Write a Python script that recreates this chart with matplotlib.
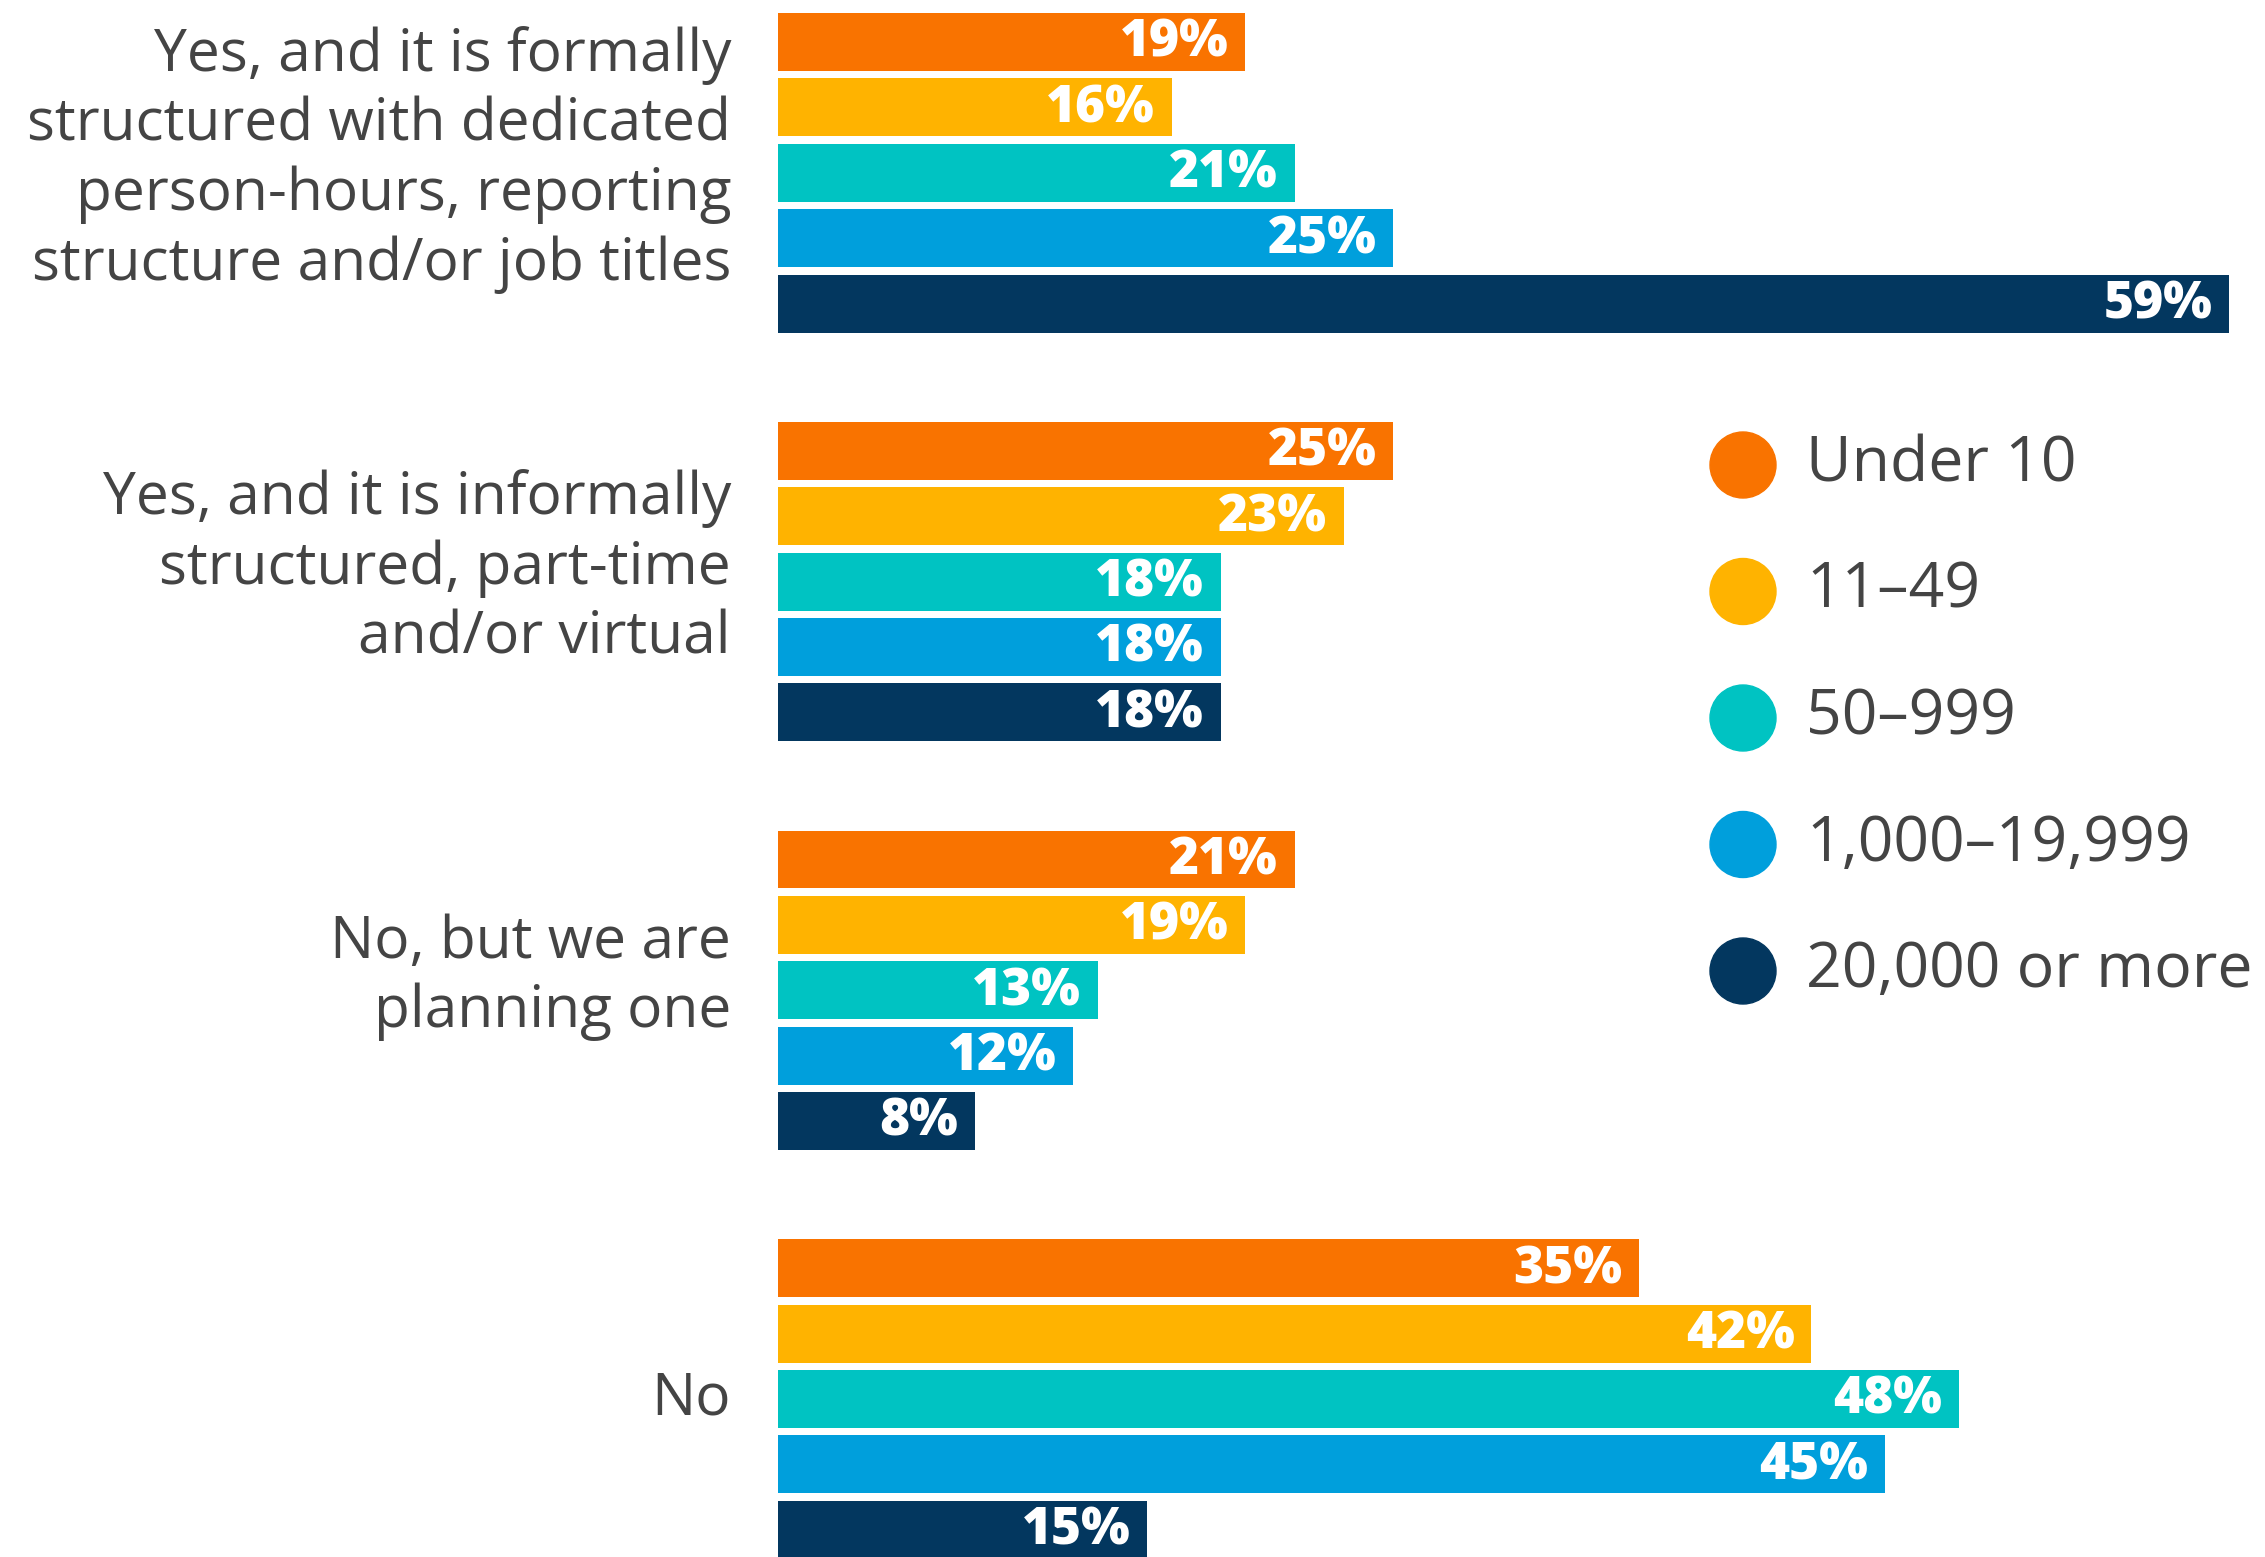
import matplotlib.pyplot as plt
from matplotlib.patches import Ellipse

# Survey answers (top to bottom) and company-size series
categories = [
    "Yes, and it is formally\nstructured with dedicated\nperson-hours, reporting\nstructure and/or job titles",
    "Yes, and it is informally\nstructured, part-time\nand/or virtual",
    "No, but we are\nplanning one",
    "No",
]
series_names = ["Under 10", "11\u201349", "50\u2013999", "1,000\u201319,999", "20,000 or more"]
under_10 = [19, 25, 21, 35]
s_11_49 = [16, 23, 19, 42]
s_50_999 = [21, 18, 13, 48]
s_1000_19999 = [25, 18, 12, 45]
s_20000_plus = [59, 18, 8, 15]
series_values = [under_10, s_11_49, s_50_999, s_1000_19999, s_20000_plus]
colors = ["#F97300", "#FFB300", "#00C3C2", "#009FDC", "#03375F"]

text_color = "#444444"
plt.rcParams['font.family'] = ['Open Sans', 'DejaVu Sans']

W, H = 2265, 1557
fig = plt.figure(figsize=(W / 100, H / 100), dpi=100)
ax = fig.add_axes([0, 0, 1, 1])

# layout in pixels
x0_px = 778          # left edge of bars
px_per_pct = 24.6
slot_px = 65.4       # bar pitch
first_center_px = 42
group_step = 6.25    # in slots
bar_h = 0.886

ax.set_xlim(-x0_px / px_per_pct, (W - x0_px) / px_per_pct)
ax.set_ylim((H - first_center_px) / slot_px, -first_center_px / slot_px)
ax.axis('off')

for s, (vals, col) in enumerate(zip(series_values, colors)):
    ys = [g * group_step + s for g in range(len(categories))]
    ax.barh(ys, vals, height=bar_h, color=col, left=0)
    for y, v in zip(ys, vals):
        ax.annotate(f"{v}%", (v, y), xytext=(-12, -1), textcoords='offset points',
                    ha='right', va='center', color='white', fontsize=37,
                    fontweight='heavy')

label_x = -(x0_px - 731) / px_per_pct
for g, cat in enumerate(categories):
    yc = g * group_step + 2
    shift = -0.2 if "\n" in cat else 0
    ax.text(label_x, yc + shift, cat, ha='right', va='center', fontsize=42.2,
            color=text_color, linespacing=1.25)

# legend drawn manually
for i, (name, col) in enumerate(zip(series_names, colors)):
    cy = 1 - (465 + i * 126.5) / H
    fig.patches.append(Ellipse((1743 / W, cy), 66 / W, 66 / H,
                               transform=fig.transFigure, color=col))
    fig.text(1806 / W, cy, name, ha='left', va='center', fontsize=45,
             color=text_color)

fig.savefig("out.png", dpi=100)
